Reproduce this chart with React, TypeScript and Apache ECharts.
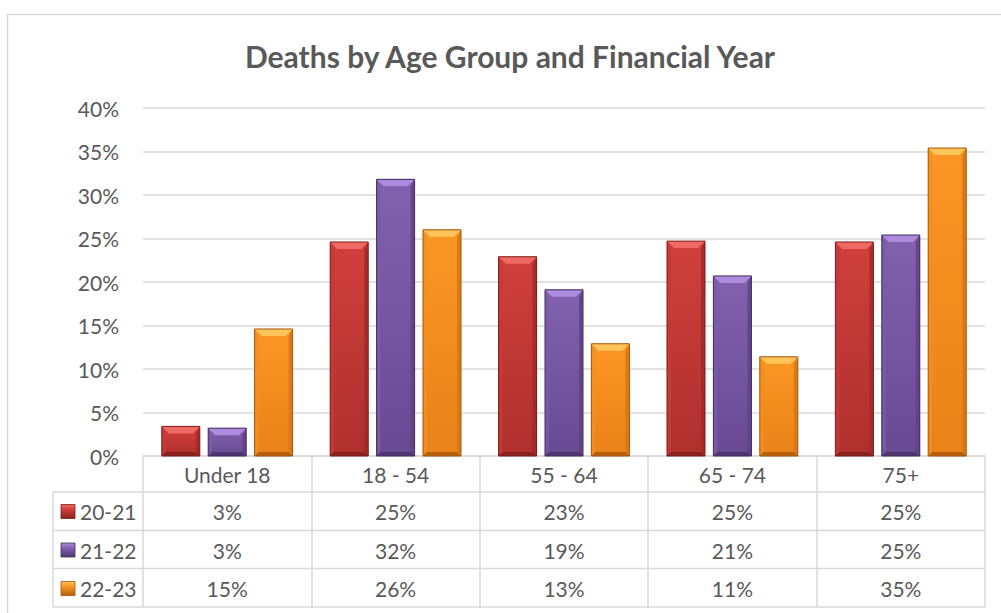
import React, { useEffect, useRef } from "react";
import * as echarts from "echarts";

// Age groups along the x axis
const categories = ["Under 18", "18 - 54", "55 - 64", "65 - 74", "75+"];
// Financial years (one series each)
const seriesNames = ["20-21", "21-22", "22-23"];
// Share of deaths (%) per age group
const fy2021 = [3.4, 24.6, 22.9, 24.7, 24.6];
const fy2122 = [3.2, 31.8, 19.1, 20.7, 25.4];
const fy2223 = [14.6, 26.0, 12.9, 11.4, 35.4];
const seriesValues = [fy2021, fy2122, fy2223];
// Value axis ticks
const yMax = 40;
const yStep = 5;

const W = 1001;
const H = 613;
const GRID_LEFT = 143;
const GRID_RIGHT = 16;
const GRID_TOP = 108;
const GRID_BOTTOM = 157;
const AXIS_Y = H - GRID_BOTTOM; // 456
const TABLE_RIGHT = W - GRID_RIGHT;
const LEGEND_LEFT = 53;
const ROW_LINES = [492, 530.5, 568.5, 607];
const HEADER_CENTER = 474;
const ROW_CENTERS = [511.5, 550, 588.5];

const FONT = "Lato, 'Open Sans', sans-serif";
const TEXT = "#595959";
const LINE = "#D9D9D9";
const LABEL_SIZE = 21;

const palettes = [
  { faceTop: "#D0403C", faceBottom: "#AE2F2D", top: "#EF6A64", left: "#C63B37", right: "#A02A28", bottom: "#8A211F", edge: "#7A1D1B" },
  { faceTop: "#8262AE", faceBottom: "#684992", top: "#AD8BDE", left: "#7B5BA7", right: "#5E4386", bottom: "#4E3670", edge: "#402C5C" },
  { faceTop: "#FA9723", faceBottom: "#E98219", top: "#FFC55B", left: "#F48F20", right: "#D97614", bottom: "#B65F0C", edge: "#A4560C" },
];

const BAR_RATIO = 38 / 168.4;
const GAP_RATIO = 8.4 / 168.4;

function makeRender(s: number) {
  return (params: any, api: any) => {
    const cat = api.value(0);
    const val = api.value(1);
    const catW = api.size([1, 0])[0];
    const barW = catW * BAR_RATIO;
    const gap = catW * GAP_RATIO;
    const [cx, yTop] = api.coord([cat, val]);
    const yBase = api.coord([cat, 0])[1];
    const x = cx - (3 * barW + 2 * gap) / 2 + s * (barW + gap);
    const h = yBase - yTop;
    const b = Math.min(7, h / 2);
    const sb = Math.min(4, h / 2);
    const c = palettes[s];
    return {
      type: "group",
      children: [
        {
          type: "rect",
          shape: { x, y: yTop, width: barW, height: h },
          style: {
            fill: new echarts.graphic.LinearGradient(0, 0, 0, 1, [
              { offset: 0, color: c.faceTop },
              { offset: 1, color: c.faceBottom },
            ]),
          },
        },
        {
          type: "polygon",
          shape: { points: [[x, yTop], [x + sb, yTop + b], [x + sb, yBase - sb], [x, yBase]] },
          style: { fill: c.left, opacity: 0.8 },
        },
        {
          type: "polygon",
          shape: { points: [[x + barW, yTop], [x + barW - sb, yTop + b], [x + barW - sb, yBase - sb], [x + barW, yBase]] },
          style: { fill: c.right, opacity: 0.85 },
        },
        {
          type: "polygon",
          shape: { points: [[x, yBase], [x + sb, yBase - sb], [x + barW - sb, yBase - sb], [x + barW, yBase]] },
          style: { fill: c.bottom },
        },
        {
          type: "polygon",
          shape: { points: [[x, yTop], [x + barW, yTop], [x + barW - b, yTop + b], [x + b, yTop + b]] },
          style: { fill: c.top },
        },
        {
          type: "rect",
          shape: { x, y: yTop, width: barW, height: h },
          style: { fill: "none", stroke: c.edge, lineWidth: 1 },
        },
      ],
    };
  };
}

const pct = (v: number) => `${Math.round(v)}%`;

export default function App() {
  const ref = useRef<HTMLDivElement>(null);

  useEffect(() => {
    if (!ref.current) return;
    const chart = echarts.init(ref.current, undefined, { renderer: "svg" });

    const tableLines: any[] = [];
    ROW_LINES.forEach((y) => {
      tableLines.push({
        type: "line",
        shape: { x1: LEGEND_LEFT, y1: y, x2: TABLE_RIGHT, y2: y },
        style: { stroke: LINE, lineWidth: 1.5 },
      });
    });
    tableLines.push({
      type: "line",
      shape: { x1: LEGEND_LEFT, y1: ROW_LINES[0], x2: LEGEND_LEFT, y2: ROW_LINES[3] },
      style: { stroke: LINE, lineWidth: 1.5 },
    });

    const legendItems: any[] = [];
    seriesNames.forEach((name, i) => {
      const c = palettes[i];
      const cy = ROW_CENTERS[i];
      legendItems.push({
        type: "rect",
        shape: { x: 61, y: cy - 7, width: 14, height: 14 },
        style: {
          fill: new echarts.graphic.LinearGradient(0, 0, 0, 1, [
            { offset: 0, color: c.top },
            { offset: 0.35, color: c.faceTop },
            { offset: 1, color: c.bottom },
          ]),
          stroke: c.edge,
          lineWidth: 0.8,
        },
      });
      legendItems.push({
        type: "text",
        x: 80,
        y: cy,
        style: {
          text: name,
          fill: TEXT,
          font: `${LABEL_SIZE}px ${FONT}`,
          textVerticalAlign: "middle",
        },
      });
    });

    const rowAxes = seriesValues.map((vals, i) => ({
      type: "category",
      gridIndex: 0,
      position: "bottom",
      data: vals.map(pct),
      axisLine: { show: false },
      axisTick: { show: false },
      splitLine: { show: false },
      axisLabel: {
        interval: 0,
        margin: ROW_CENTERS[i] - AXIS_Y,
        verticalAlign: "middle",
        color: TEXT,
        fontSize: LABEL_SIZE,
        fontFamily: FONT,
      },
    }));

    chart.setOption({
      animation: false,
      backgroundColor: "#FFFFFF",
      grid: { left: GRID_LEFT, right: GRID_RIGHT, top: GRID_TOP, bottom: GRID_BOTTOM },
      xAxis: [
        {
          type: "category",
          data: categories,
          axisLine: { show: true, lineStyle: { color: LINE, width: 1.5 } },
          axisTick: { show: true, interval: 0, length: ROW_LINES[3] - AXIS_Y, lineStyle: { color: LINE, width: 1.5 } },
          axisLabel: {
            interval: 0,
            margin: HEADER_CENTER - AXIS_Y,
            verticalAlign: "middle",
            color: TEXT,
            fontSize: LABEL_SIZE,
            fontFamily: FONT,
          },
        },
        ...rowAxes,
      ],
      yAxis: {
        type: "value",
        min: 0,
        max: yMax,
        interval: yStep,
        axisLine: { show: false },
        axisTick: { show: false },
        splitLine: { lineStyle: { color: LINE, width: 1.5 } },
        axisLabel: {
          formatter: (v: number) => `${v}%`,
          margin: 24,
          color: TEXT,
          fontSize: LABEL_SIZE,
          fontFamily: FONT,
        },
      },
      series: seriesValues.map((vals, s) => ({
        name: seriesNames[s],
        type: "custom",
        xAxisIndex: 0,
        yAxisIndex: 0,
        itemStyle: { color: palettes[s].faceTop },
        encode: { x: 0, y: 1 },
        data: vals.map((v, i) => [i, v]),
        renderItem: makeRender(s),
      })),
      graphic: [
        {
          type: "rect",
          silent: true,
          shape: { x: 7.5, y: 14.5, width: 1200, height: 800 },
          style: { fill: "none", stroke: LINE, lineWidth: 1.5 },
        },
        {
          type: "text",
          x: 510,
          y: 56,
          style: {
            text: "Deaths by Age Group and Financial Year",
            fill: TEXT,
            font: `bold 30px ${FONT}`,
            textAlign: "center",
            textVerticalAlign: "middle",
          },
        },
        ...tableLines,
        ...legendItems,
      ],
    });

    return () => chart.dispose();
  }, []);

  return (
    <div
      ref={ref}
      style={{ position: "absolute", left: 0, top: 0, width: W, height: H }}
    />
  );
}
